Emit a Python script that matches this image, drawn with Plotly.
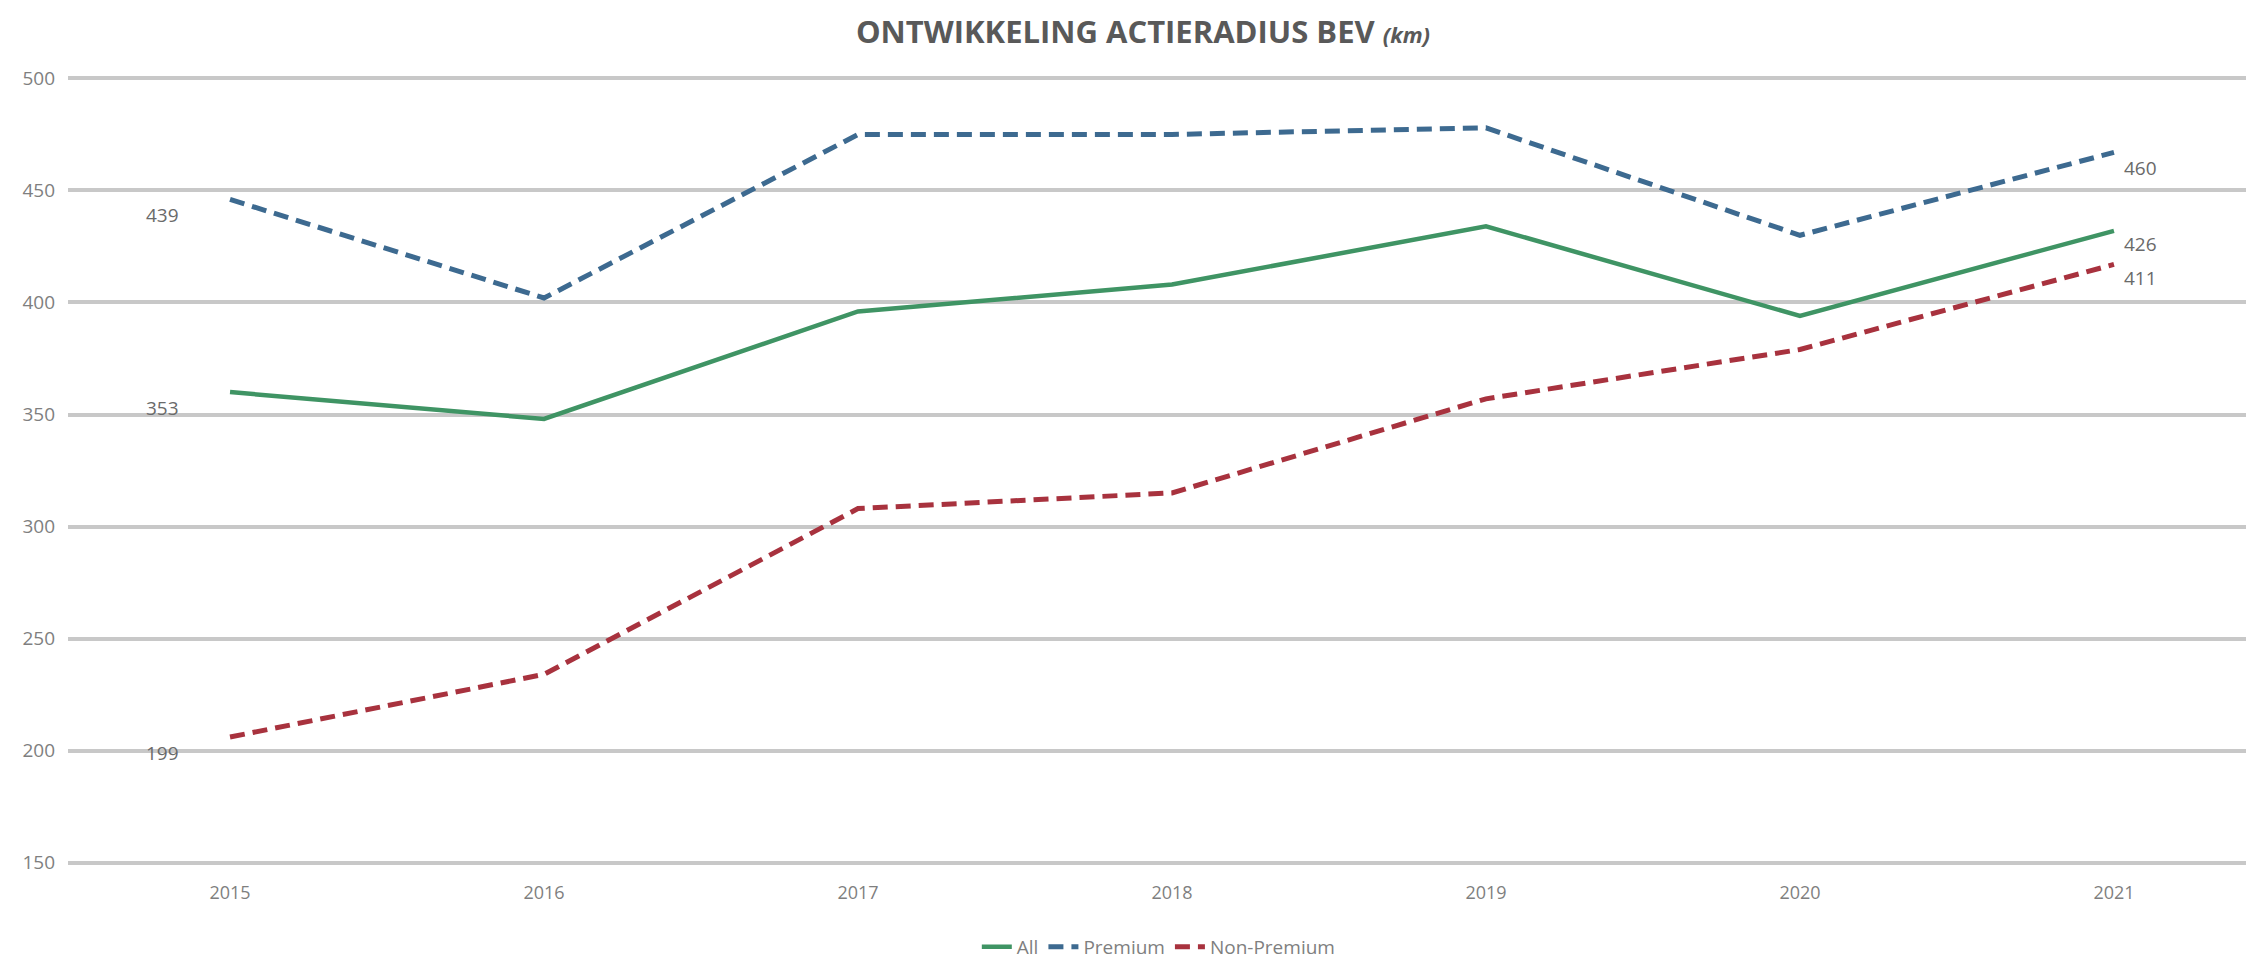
import plotly.graph_objects as go

# ─── data ─────────────────────────────────────────────────────────────────────
YEARS = [2015, 2016, 2017, 2018, 2019, 2020, 2021]
ALL = [360, 348, 396, 408, 434, 394, 432]
PREMIUM = [446, 402, 475, 475, 478, 430, 467]
NON_PREMIUM = [206, 234, 308, 315, 357, 379, 417]

# data labels printed at the first and last year
LABEL_YEARS = [2015, 2021]
ALL_LABELS = [353, 426]
PREMIUM_LABELS = [439, 460]
NON_PREMIUM_LABELS = [199, 411]

Y_TICKS = [150, 200, 250, 300, 350, 400, 450, 500]

GREEN = "#3f9464"
BLUE = "#3d6a90"
RED = "#a8323e"
GRID = "#c8c8c8"
TICK = "#7f7f7f"
FONT = "'Open Sans', Lato, sans-serif"

# page body has an 8px margin, so the figure is a bit smaller than the window
W, H = 2246, 952

fig = go.Figure()
fig.add_trace(go.Scatter(x=YEARS, y=ALL, name="All", mode="lines",
                         line=dict(color=GREEN, width=4.5)))
fig.add_trace(go.Scatter(x=YEARS, y=PREMIUM, name="Premium", mode="lines",
                         line=dict(color=BLUE, width=5, dash="15px,8px")))
fig.add_trace(go.Scatter(x=YEARS, y=NON_PREMIUM, name="Non-Premium", mode="lines",
                         line=dict(color=RED, width=5, dash="15px,8px")))

# data labels
for vals in (ALL_LABELS, PREMIUM_LABELS, NON_PREMIUM_LABELS):
    fig.add_annotation(x=LABEL_YEARS[0], y=vals[0], text=str(vals[0]),
                       showarrow=False, xanchor="right", xshift=-49,
                       font=dict(size=19, color="#6a6a6a", family=FONT))
    fig.add_annotation(x=LABEL_YEARS[1], y=vals[1], text=str(vals[1]),
                       showarrow=False, xanchor="left", xshift=8,
                       font=dict(size=19, color="#6a6a6a", family=FONT))

fig.update_layout(
    width=W, height=H,
    paper_bgcolor="white", plot_bgcolor="white",
    margin=dict(l=60, r=0, t=65.5, b=92.5),
    title=dict(text="ONTWIKKELING ACTIERADIUS BEV <i><span style='font-size:22px'>(km)</span></i>",
               x=1135 / W, xanchor="center", y=1 - 24 / H, yanchor="middle",
               font=dict(size=31, color="#595959", family=FONT, weight="bold")),
    xaxis=dict(range=[2014.484, 2021.446], tickmode="array", tickvals=YEARS,
               ticktext=[str(y) for y in YEARS], showgrid=False, zeroline=False,
               showline=False, ticks="", ticklabelstandoff=13,
               tickfont=dict(size=18, color=TICK, family=FONT)),
    yaxis=dict(range=[148, 502], tickmode="array", tickvals=Y_TICKS,
               showgrid=True, gridcolor=GRID, gridwidth=4, zeroline=False,
               showline=False, ticks="", ticklabelstandoff=12,
               tickfont=dict(size=19, color=TICK, family=FONT)),
    legend=dict(orientation="h", x=0.499, xanchor="center",
                yref="container", y=13 / H, yanchor="middle",
                font=dict(size=19, color=TICK, family=FONT),
                bgcolor="rgba(0,0,0,0)", itemwidth=30),
    font=dict(family=FONT),
)

fig.write_html("out.html")
